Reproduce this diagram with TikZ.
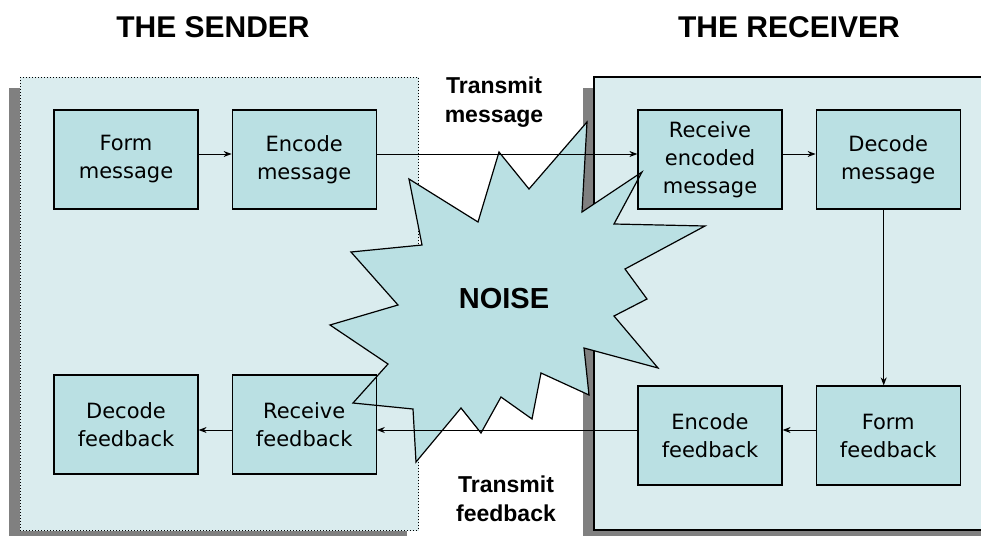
\documentclass[tikz,border=0pt]{standalone}
\usepackage{fontspec}
\setmainfont{Liberation Sans}
\newfontfamily\boxfont{DejaVu Sans}
\usetikzlibrary{positioning,arrows.meta}
\definecolor{panelfill}{RGB}{218,236,238}
\definecolor{boxfill}{RGB}{186,224,227}
\definecolor{shadowgray}{RGB}{128,128,128}
\newcommand{\noiseburst}{(499,152) -- (529,189) -- (587,122) -- (582,212) -- (642,172)
  -- (614,224) -- (705,226) -- (625,269) -- (647,299) -- (614,316) -- (658,368)
  -- (584,348) -- (589,395) -- (541,373) -- (532,419) -- (501,397) -- (481,433)
  -- (461,408) -- (416,462) -- (413,409) -- (353,403) -- (388,364) -- (330,325)
  -- (398,305) -- (351,252) -- (422,245) -- (409,179) -- (478,222) -- cycle}

\begin{document}
\begin{tikzpicture}[x=0.5pt, y=-0.5pt, >={Stealth[length=4pt,width=3pt]},
    msgbox/.style={rectangle, draw, line width=0.6pt, fill=boxfill, minimum width=72pt,
      minimum height=49.5pt, align=center, font=\boxfont\fontsize{10.5}{14}\selectfont},
    title/.style={font=\bfseries\fontsize{15}{18}\selectfont},
    chanlabel/.style={align=center, font=\bfseries\fontsize{11.5}{14.5}\selectfont},
    link/.style={->, line width=0.5pt},
    node distance=16.5pt]

\clip (0,0) rectangle (981,536);

% sender and receiver panels
\fill[shadowgray] (9,88) rectangle (407,545);
\draw[panelfill, fill=panelfill] (20,77) rectangle (418,530);
\draw[densely dotted, line width=0.5pt] (20,77) rectangle (418,530);
\fill[shadowgray] (583,88) rectangle (1000,545);
\draw[line width=1pt, fill=panelfill] (594,77) rectangle (1000,530);

\node[title] (sender) at (213,27) {THE SENDER};
\node[title] (receiver) at (789,27) {THE RECEIVER};

% noise burst (fill first, outline over the boxes)
\fill[boxfill] \noiseburst;

% message path
\node[msgbox] (formmsg) at (126,159.5) {Form\\message};
\node[msgbox, right=of formmsg] (encmsg) {Encode\\message};
\node[msgbox] (recvmsg) at (710,159.5) {Receive\\encoded\\message};
\node[msgbox, right=of recvmsg] (decmsg) {Decode\\message};

% feedback path
\node[msgbox] (encfb) at (710,435.5) {Encode\\feedback};
\node[msgbox, right=of encfb] (formfb) {Form\\feedback};
\node[msgbox] (decfb) at (126,424.5) {Decode\\feedback};
\node[msgbox, right=of decfb] (recvfb) {Receive\\feedback};

\draw[line width=0.6pt] \noiseburst;
\node[font=\bfseries\fontsize{14.5}{17}\selectfont] (noise) at (504,299) {NOISE};

\node[chanlabel] (txmsg) at (494,102) {Transmit\\message};
\node[chanlabel] (txfb) at (506,499) {Transmit\\feedback};

\draw[link] ([yshift=2.75pt]formmsg.east) -- ([yshift=2.75pt]encmsg.west);
\draw[link] ([yshift=2.75pt]encmsg.east) -- ([yshift=2.75pt]recvmsg.west);
\draw[link] ([yshift=2.75pt]recvmsg.east) -- ([yshift=2.75pt]decmsg.west);
\draw[link] ([xshift=-2.25pt]decmsg.south) -- ([xshift=-2.25pt]formfb.north);
\draw[link] ([yshift=2.75pt]formfb.west) -- ([yshift=2.75pt]encfb.east);
\draw[link] ([yshift=2.75pt]encfb.west) -- ([yshift=-2.75pt]recvfb.east);
\draw[link] ([yshift=-2.75pt]recvfb.west) -- ([yshift=-2.75pt]decfb.east);

\end{tikzpicture}
\end{document}
